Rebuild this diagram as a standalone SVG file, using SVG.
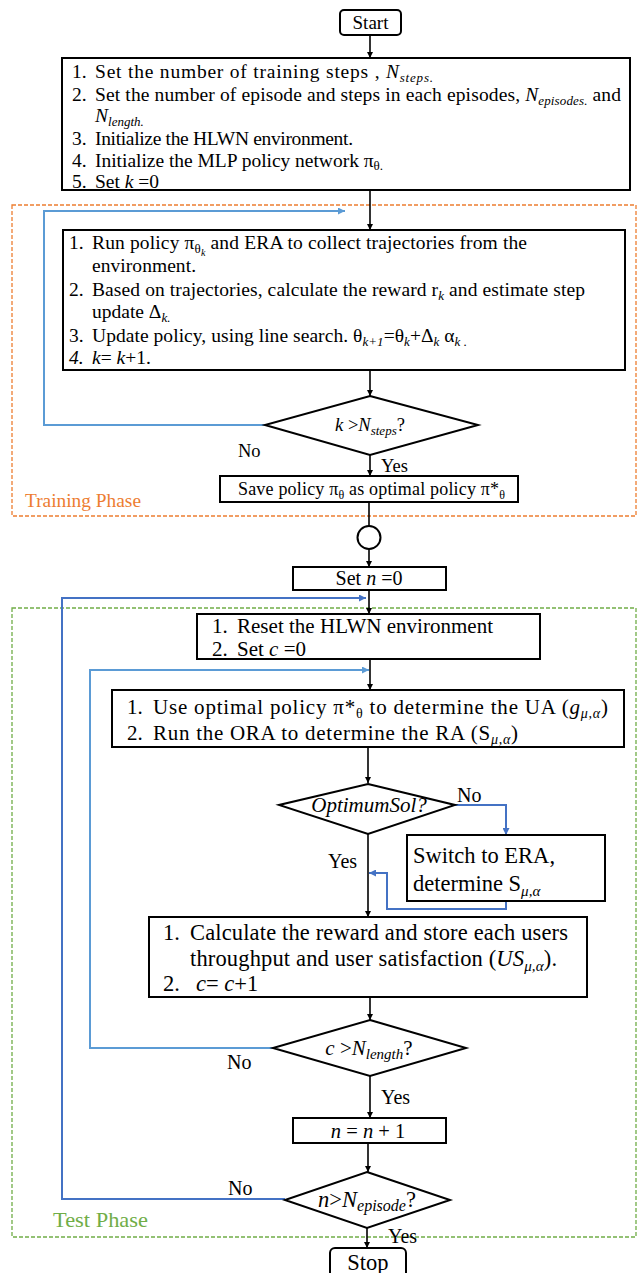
<svg xmlns="http://www.w3.org/2000/svg" width="644" height="1273" viewBox="0 0 644 1273" font-family="'Liberation Serif','Times New Roman',serif">
<style>
text{font-family:"Liberation Serif","Times New Roman",serif;fill:#000}
.box{fill:#fff;stroke:#000;stroke-width:2}
.ln{fill:none;stroke:#000;stroke-width:1.6}
.lb{fill:none;stroke:#5B9BD5;stroke-width:2}
.db{fill:none;stroke:#4472C4;stroke-width:2}
.t1{font-size:19.5px}
.t2{font-size:21px}
.t3{font-size:22.5px}
.s{font-size:13px;font-style:italic}
.i{font-style:italic}
</style>
<defs>
<marker id="ak" viewBox="0 0 10 10" refX="10" refY="5" markerWidth="6" markerHeight="6" orient="auto" markerUnits="userSpaceOnUse"><path d="M0,0 L10,5 L0,10 Z" fill="#000"/></marker>
<marker id="ab" viewBox="0 0 10 10" refX="10" refY="5" markerWidth="7" markerHeight="7" orient="auto" markerUnits="userSpaceOnUse"><path d="M0,0 L10,5 L0,10 Z" fill="#5B9BD5"/></marker>
<marker id="ad" viewBox="0 0 10 10" refX="10" refY="5" markerWidth="7" markerHeight="7" orient="auto" markerUnits="userSpaceOnUse"><path d="M0,0 L10,5 L0,10 Z" fill="#4472C4"/></marker>
</defs>

<g id="phases">
<rect x="12" y="205" width="624" height="311" fill="none" stroke="#ED7D31" stroke-width="1.3" stroke-dasharray="4,2"/>
<text x="25" y="507" style="font-size:19.5px;fill:#ED7D31" textLength="116" lengthAdjust="spacingAndGlyphs">Training Phase</text>
<rect x="12" y="608" width="624" height="629" fill="none" stroke="#70AD47" stroke-width="1.3" stroke-dasharray="4,2"/>
<text x="53" y="1227" style="font-size:22px;fill:#70AD47" textLength="95" lengthAdjust="spacingAndGlyphs">Test Phase</text>
</g>

<g id="connectors">
<line class="ln" x1="370" y1="35" x2="370" y2="58" marker-end="url(#ak)"/>
<line class="ln" x1="370" y1="190" x2="370" y2="230" marker-end="url(#ak)"/>
<line class="ln" x1="370" y1="370" x2="370" y2="396" marker-end="url(#ak)"/>
<line class="ln" x1="370" y1="455" x2="370" y2="476" marker-end="url(#ak)"/>
<line class="ln" x1="369" y1="502" x2="369" y2="526"/>
<line class="ln" x1="369" y1="549" x2="369" y2="567" marker-end="url(#ak)"/>
<line class="ln" x1="369" y1="590" x2="369" y2="614" marker-end="url(#ak)"/>
<line class="ln" x1="370" y1="659" x2="370" y2="690" marker-end="url(#ak)"/>
<line class="ln" x1="368" y1="746" x2="368" y2="783" marker-end="url(#ak)"/>
<line class="ln" x1="368" y1="834" x2="368" y2="917" marker-end="url(#ak)"/>
<line class="ln" x1="370" y1="997" x2="370" y2="1020" marker-end="url(#ak)"/>
<line class="ln" x1="370" y1="1076" x2="370" y2="1118" marker-end="url(#ak)"/>
<line class="ln" x1="368" y1="1143" x2="368" y2="1172" marker-end="url(#ak)"/>
<line class="ln" x1="367" y1="1228" x2="367" y2="1248" marker-end="url(#ak)"/>
<polyline class="lb" points="265,425 44,425 44,211 345,211" marker-end="url(#ab)"/>
<polyline class="db" points="285,1199 62,1199 62,598 366,598" marker-end="url(#ad)"/>
<polyline class="lb" points="273,1048 90,1048 90,670 369,670" marker-end="url(#ab)"/>
<polyline class="db" points="455,805 506,805 506,835" marker-end="url(#ad)"/>
<polyline class="db" points="506,901 506,909 387,909 387,873 369,873" marker-end="url(#ad)"/>
<text x="238" y="457" style="font-size:18.5px">No</text>
<text x="381" y="472" style="font-size:18.5px">Yes</text>
<text x="457" y="802" style="font-size:20px">No</text>
<text x="328" y="868" style="font-size:20px">Yes</text>
<text x="227" y="1069" style="font-size:20px">No</text>
<text x="381" y="1104" style="font-size:20px">Yes</text>
<text x="228" y="1195" style="font-size:20px">No</text>
<text x="388" y="1243" style="font-size:20px">Yes</text>
</g>

<g id="start">
<rect x="340" y="10" width="61" height="25" rx="4" class="box"/>
<text x="370.5" y="29" style="font-size:19px" text-anchor="middle">Start</text>
</g>

<g id="init">
<rect x="62" y="58" width="568" height="132" class="box"/>
<text class="t1" x="72" y="78">1.</text>
<text class="t1" textLength="338" lengthAdjust="spacing"><tspan x="95" y="78">Set the number of training steps , </tspan><tspan class="i">N</tspan><tspan class="s" dy="4">steps.</tspan></text>
<text class="t1" x="72" y="101">2.</text>
<text class="t1" textLength="526" lengthAdjust="spacing"><tspan x="95" y="101">Set the number of episode and steps in each episodes, </tspan><tspan class="i">N</tspan><tspan class="s" dy="4">episodes.</tspan><tspan dy="-4"> and</tspan></text>
<text class="t1"><tspan x="95" y="122" class="i">N</tspan><tspan class="s" dy="4">length.</tspan></text>
<text class="t1" x="72" y="145">3.</text>
<text class="t1" x="95" y="145" textLength="258" lengthAdjust="spacing">Initialize the HLWN environment.</text>
<text class="t1" x="72" y="167">4.</text>
<text class="t1" textLength="288" lengthAdjust="spacing"><tspan x="95" y="167">Initialize the MLP policy network π</tspan><tspan style="font-size:13px" dy="3">θ.</tspan></text>
<text class="t1" x="72" y="188">5.</text>
<text class="t1"><tspan x="95" y="188">Set </tspan><tspan class="i">k</tspan><tspan> =0</tspan></text>
</g>

<g id="train">
<rect x="63" y="230" width="562" height="140" class="box"/>
<text class="t1" x="69" y="249">1.</text>
<text class="t1" textLength="435" lengthAdjust="spacing"><tspan x="92" y="249">Run policy π</tspan><tspan style="font-size:13px" dy="4">θ</tspan><tspan class="s" style="font-size:10px" dy="3">k</tspan><tspan dy="-7"> and ERA to collect  trajectories from the</tspan></text>
<text class="t1" x="92" y="272" textLength="104" lengthAdjust="spacing">environment.</text>
<text class="t1" x="69" y="296">2.</text>
<text class="t1" textLength="493" lengthAdjust="spacing"><tspan x="92" y="296">Based on trajectories, calculate the reward r</tspan><tspan class="s" dy="4">k</tspan><tspan dy="-4"> and estimate step</tspan></text>
<text class="t1"><tspan x="92" y="318">update Δ</tspan><tspan class="s" dy="4">k.</tspan></text>
<text class="t1" x="69" y="342">3.</text>
<text class="t1" textLength="375" lengthAdjust="spacing"><tspan x="92" y="342">Update policy, using line search. θ</tspan><tspan class="s" dy="4">k+1</tspan><tspan dy="-4">=θ</tspan><tspan class="s" dy="4">k</tspan><tspan dy="-4">+Δ</tspan><tspan class="s" dy="4">k</tspan><tspan dy="-4"> α</tspan><tspan class="s" dy="4">k .</tspan></text>
<text class="t1 i" x="69" y="364">4.</text>
<text class="t1"><tspan x="92" y="364" class="i">k</tspan><tspan>= </tspan><tspan class="i">k</tspan><tspan>+1.</tspan></text>
</g>

<g id="check_k">
<polygon points="370,396 478,425 370,455 265,425" class="box"/>
<text x="370" y="431" style="font-size:18.5px" text-anchor="middle"><tspan class="i">k</tspan><tspan> &gt;</tspan><tspan class="i">N</tspan><tspan class="s" dy="4">steps</tspan><tspan dy="-4">?</tspan></text>
</g>

<g id="save">
<rect x="220" y="476" width="298" height="26" class="box"/>
<text style="font-size:18px" textLength="267" lengthAdjust="spacing"><tspan x="238" y="495">Save policy π</tspan><tspan style="font-size:12px" dy="4">θ</tspan><tspan dy="-4">  as optimal policy π*</tspan><tspan style="font-size:12px" dy="4">θ</tspan></text>
</g>

<g id="connector_circle">
<circle cx="369" cy="537.5" r="11.5" class="box"/>
</g>

<g id="set_n">
<rect x="293" y="567" width="153" height="23" class="box"/>
<text x="369" y="585" style="font-size:20px" text-anchor="middle"><tspan>Set </tspan><tspan class="i">n</tspan><tspan> =0</tspan></text>
</g>

<g id="reset">
<rect x="197" y="614" width="343" height="45" class="box"/>
<text class="t2" x="212" y="633">1.</text>
<text class="t2" x="237" y="633" textLength="256" lengthAdjust="spacing">Reset the HLWN environment</text>
<text class="t2" x="212" y="656">2.</text>
<text class="t2"><tspan x="237" y="656">Set </tspan><tspan class="i">c</tspan><tspan> =0</tspan></text>
</g>

<g id="use_policy">
<rect x="112" y="690" width="512" height="57" class="box"/>
<text class="t2" x="127" y="714">1.</text>
<text class="t2" textLength="455" lengthAdjust="spacing"><tspan x="153" y="714">Use optimal policy π*</tspan><tspan style="font-size:14px" dy="4">θ</tspan><tspan dy="-4"> to determine the UA (</tspan><tspan class="i">g</tspan><tspan class="s" style="font-size:14px" dy="4">μ,α</tspan><tspan dy="-4">)</tspan></text>
<text class="t2" x="127" y="740">2.</text>
<text class="t2" textLength="365" lengthAdjust="spacing"><tspan x="153" y="740">Run the ORA to determine the RA (S</tspan><tspan class="s" style="font-size:14px" dy="4">μ,α</tspan><tspan dy="-4">)</tspan></text>
</g>

<g id="optimum">
<polygon points="368,784 455,805 368,834 279,805" class="box"/>
<text x="369" y="812" class="i" style="font-size:21px" text-anchor="middle">OptimumSol?</text>
</g>

<g id="switch_era">
<rect x="407" y="835" width="198" height="66" class="box"/>
<text class="t3" x="413" y="863" textLength="142" lengthAdjust="spacing">Switch to ERA,</text>
<text class="t3"><tspan x="413" y="891">determine S</tspan><tspan class="s" style="font-size:15px" dy="5">μ,α</tspan></text>
</g>

<g id="reward">
<rect x="149" y="917" width="438" height="80" class="box"/>
<text class="t3" x="163" y="940">1.</text>
<text class="t3" x="190" y="940" textLength="378" lengthAdjust="spacing">Calculate the reward and store each users</text>
<text class="t3" textLength="367" lengthAdjust="spacing"><tspan x="190" y="966">throughput and user satisfaction (</tspan><tspan class="i">US</tspan><tspan class="s" style="font-size:15px" dy="5">μ,α</tspan><tspan dy="-5">).</tspan></text>
<text class="t3" x="163" y="991">2.</text>
<text class="t3"><tspan x="196" y="991" class="i">c</tspan><tspan>= </tspan><tspan class="i">c</tspan><tspan>+1</tspan></text>
</g>

<g id="check_c">
<polygon points="370,1020 466,1048 370,1076 273,1048" class="box"/>
<text x="369" y="1055" style="font-size:21px" text-anchor="middle"><tspan class="i">c</tspan><tspan> &gt;</tspan><tspan class="i">N</tspan><tspan class="s" style="font-size:15px" dy="4">length</tspan><tspan dy="-4">?</tspan></text>
</g>

<g id="inc_n">
<rect x="293" y="1118" width="153" height="25" class="box"/>
<text x="368" y="1138" style="font-size:20.5px" text-anchor="middle"><tspan class="i">n</tspan><tspan> = </tspan><tspan class="i">n</tspan><tspan> + 1</tspan></text>
</g>

<g id="check_n">
<polygon points="367,1172 450,1200 367,1228 285,1200" class="box"/>
<text x="367" y="1207" style="font-size:22.5px" text-anchor="middle"><tspan class="i">n</tspan><tspan>&gt;</tspan><tspan class="i">N</tspan><tspan class="s" style="font-size:16px" dy="4">episode</tspan><tspan dy="-4">?</tspan></text>
</g>

<g id="stop">
<rect x="330" y="1248" width="76" height="36" rx="5" class="box"/>
<text x="368" y="1270" style="font-size:22.5px" text-anchor="middle">Stop</text>
</g>
</svg>
